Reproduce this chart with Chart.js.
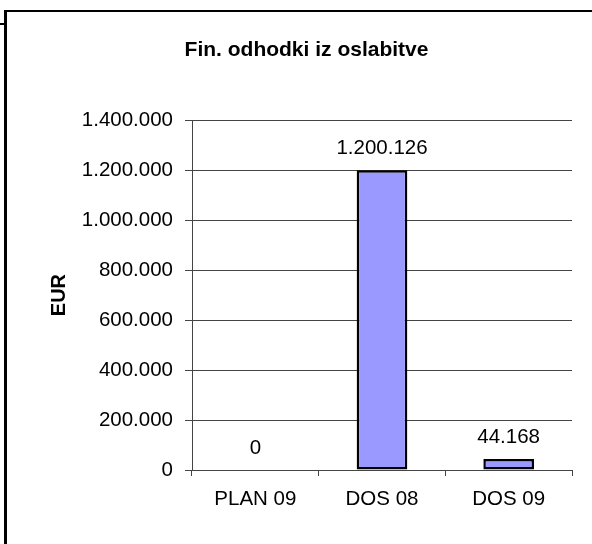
<!DOCTYPE html>
<html>
<head>
<meta charset="utf-8">
<script src="https://cdn.jsdelivr.net/npm/chart.js@4/dist/chart.umd.min.js"></script>
<style>
  html, body { margin: 0; padding: 0; background: #fff; }
  body { width: 592px; height: 544px; position: relative; overflow: hidden; }
  .frame-left { position: absolute; left: 4px; top: 10px; width: 3px; height: 540px; background: #000; }
  .frame-top { position: absolute; left: 4px; top: 10px; width: 600px; height: 2px; background: #000; }
  .frame-stub { position: absolute; left: 0; top: 23px; width: 5px; height: 2px; background: #000; }
  #wrap { position: absolute; left: 16px; top: 0; width: 576px; height: 544px; }
</style>
</head>
<body>
<div class="frame-left"></div>
<div class="frame-top"></div>
<div class="frame-stub"></div>
<div id="wrap"><canvas id="c" width="576" height="544"></canvas></div>
<script>
const categories = ['PLAN 09', 'DOS 08', 'DOS 09'];
const values = [0, 1200126, 44168];
const yTicks = [0, 200000, 400000, 600000, 800000, 1000000, 1200000, 1400000];

const FONT = "'Liberation Sans', Arial, sans-serif";

// Slovenian style thousands separator: 1.200.126
function fmt(v) {
  return String(Math.round(v)).replace(/\B(?=(\d{3})+(?!\d))/g, '.');
}

const valueLabels = {
  id: 'valueLabels',
  afterDatasetsDraw(chart) {
    const ctx = chart.ctx;
    const meta = chart.getDatasetMeta(0);
    ctx.save();
    ctx.font = '20.5px ' + FONT;
    ctx.fillStyle = '#000';
    ctx.textAlign = 'center';
    ctx.textBaseline = 'alphabetic';
    meta.data.forEach((bar, i) => {
      ctx.fillText(fmt(values[i]), bar.x, bar.y - 16);
    });
    ctx.restore();
  }
};

new Chart(document.getElementById('c'), {
  type: 'bar',
  data: {
    labels: categories,
    datasets: [{
      data: values,
      backgroundColor: '#9999FF',
      borderColor: '#000',
      borderWidth: 2.5,
      borderSkipped: false,
      barPercentage: 0.4,
      categoryPercentage: 1.0
    }]
  },
  options: {
    responsive: false,
    animation: false,
    events: [],
    layout: { padding: { left: 25, right: 20, top: 0, bottom: 0 } },
    plugins: {
      legend: { display: false },
      tooltip: { enabled: false },
      title: {
        display: true,
        text: 'Fin. odhodki iz oslabitve',
        color: '#000',
        font: { family: FONT, size: 21, weight: 'bold' },
        padding: { top: 38, bottom: 57 }
      }
    },
    scales: {
      x: {
        offset: true,
        grid: {
          offset: true,
          drawOnChartArea: false,
          drawTicks: true,
          tickLength: 6,
          color: '#444',
          lineWidth: 1
        },
        border: { display: true, color: '#444', width: 1 },
        ticks: {
          color: '#000',
          font: { family: FONT, size: 20.5 },
          padding: 11,
          maxRotation: 0
        },
        afterFit(scale) { scale.height = 74; }
      },
      y: {
        min: 0,
        max: 1400000,
        afterBuildTicks(scale) { scale.ticks = yTicks.map(v => ({ value: v })); },
        grid: {
          drawTicks: true,
          tickLength: 7,
          color: '#444',
          lineWidth: 1
        },
        border: { display: true, color: '#444', width: 1 },
        ticks: {
          color: '#000',
          font: { family: FONT, size: 20.5 },
          padding: 12,
          callback: v => fmt(v)
        },
        title: {
          display: true,
          text: 'EUR',
          color: '#000',
          font: { family: FONT, size: 20, weight: 'bold' },
          padding: { top: 6, bottom: 0 }
        },
        afterFit(scale) { scale.width = 151; }
      }
    }
  },
  plugins: [valueLabels]
});
</script>
</body>
</html>
